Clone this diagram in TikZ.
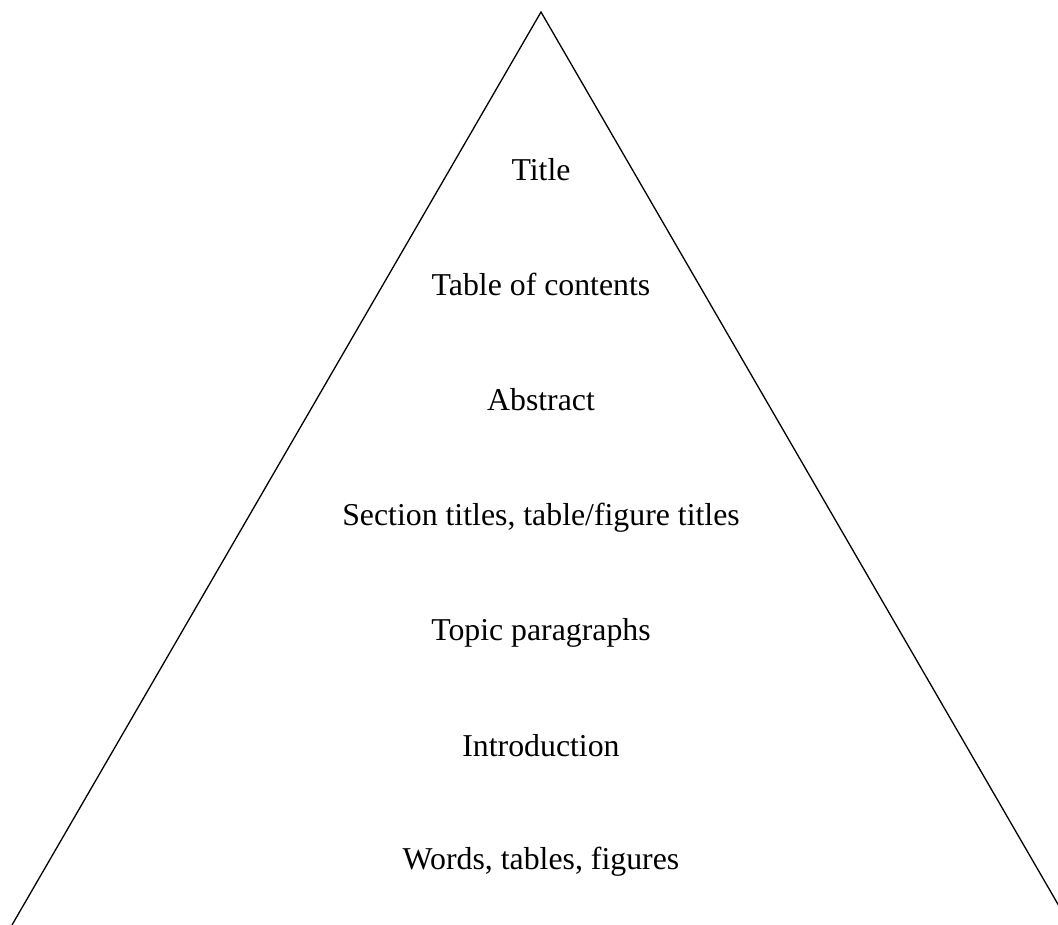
\documentclass[tikz,border=0pt]{standalone}
\usepackage{fontspec}
\setmainfont{Liberation Serif}
\begin{document}
\begin{tikzpicture}[x=1pt,y=-1pt,
  lbl/.style={font=\fontsize{31.8}{38}\selectfont, inner sep=0pt, anchor=base},
  side/.style={draw=black, line width=1.3pt}]
\useasboundingbox (0,0) rectangle (1058,925);
\clip (0,0) rectangle (1058,925);
\coordinate (apex) at (541,12);
\coordinate (bl) at (12,925);
\coordinate (br) at (1070,925);
\draw[side] (bl) -- (apex) -- (br);
\node[lbl] (t1) at (541,180.7) {Title};
\node[lbl] (t2) at (541,295.7) {Table of contents};
\node[lbl] (t3) at (541,410.7) {Abstract};
\node[lbl] (t4) at (541,525.7) {Section titles, table/figure titles};
\node[lbl] (t5) at (541,640.7) {Topic paragraphs};
\node[lbl] (t6) at (541,756.2) {Introduction};
\node[lbl] (t7) at (541,869.5) {Words, tables, figures};
\end{tikzpicture}
\end{document}
